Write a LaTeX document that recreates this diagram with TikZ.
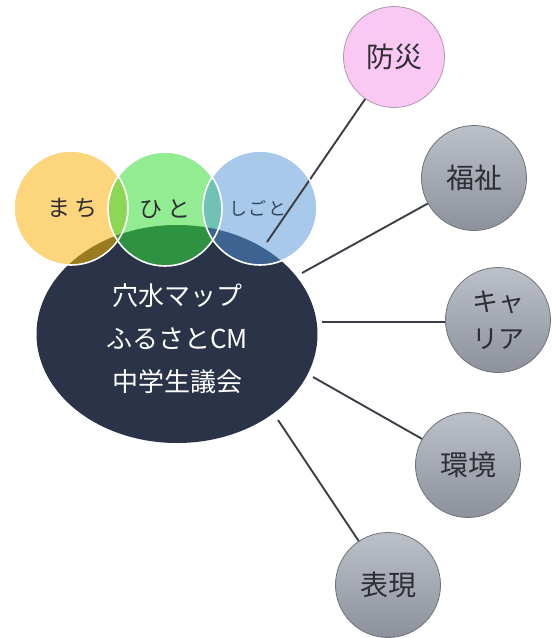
\documentclass[tikz,border=0pt]{standalone}
\usepackage{fontspec}
\setmainfont{Noto Sans CJK JP}
\usetikzlibrary{shapes.geometric}
\definecolor{navy}{HTML}{2A3347}
\definecolor{machiC}{HTML}{FCD57C}
\definecolor{hitoC}{HTML}{92EC92}
\definecolor{shigotoC}{HTML}{A9C9EA}
\definecolor{mhC}{HTML}{8ED656}
\definecolor{hsC}{HTML}{70C2B4}
\definecolor{meC}{HTML}{9A7B1F}
\definecolor{heC}{HTML}{2F9241}
\definecolor{seC}{HTML}{3D6390}
\definecolor{lineC}{HTML}{3A3E46}
\definecolor{grayTop}{HTML}{BCC0C9}
\definecolor{grayBot}{HTML}{8D919B}
\definecolor{grayEdge}{HTML}{6E727C}
\definecolor{pinkC}{HTML}{F9C9F3}
\definecolor{pinkEdge}{HTML}{B395B3}
\definecolor{txtC}{HTML}{2E2E34}
\definecolor{shTxt}{HTML}{34465E}
\tikzset{
  vennring/.style={circle, draw=white, line width=1.6pt, minimum size=114pt, inner sep=0pt, text=txtC},
  topicball/.style={circle, draw=grayEdge, line width=0.8pt, minimum size=105pt, inner sep=0pt,
    top color=grayTop, bottom color=grayBot, text=txtC, font=\fontsize{28}{36}\selectfont, align=center},
  link/.style={draw=lineC, line width=1.9pt},
}
\begin{document}
\begin{tikzpicture}[x=1pt,y=-1pt]
\useasboundingbox (0,0) rectangle (553,638);
% main ellipse
\node[ellipse, fill=navy, minimum width=281pt, minimum height=218pt, inner sep=0pt] (main) at (177,334) {};
% venn fills
\fill[machiC] (71,208) circle[radius=57pt];
\fill[hitoC] (165,209) circle[radius=57pt];
\fill[shigotoC] (260,208) circle[radius=57pt];
\begin{scope}
  \clip (71,208) circle[radius=57pt];
  \fill[mhC] (165,209) circle[radius=57pt];
\end{scope}
\begin{scope}
  \clip (165,209) circle[radius=57pt];
  \fill[hsC] (260,208) circle[radius=57pt];
\end{scope}
\begin{scope}
  \clip (71,208) circle[radius=57pt];
  \fill[meC] (177,334) ellipse[x radius=140.5pt, y radius=109pt];
\end{scope}
\begin{scope}
  \clip (165,209) circle[radius=57pt];
  \fill[heC] (177,334) ellipse[x radius=140.5pt, y radius=109pt];
\end{scope}
\begin{scope}
  \clip (260,208) circle[radius=57pt];
  \fill[seC] (177,334) ellipse[x radius=140.5pt, y radius=109pt];
\end{scope}
% topic circles
\node[topicball, top color=pinkC, bottom color=pinkC, draw=pinkEdge, minimum size=101pt] (bosai) at (394,57) {防災};
\node[topicball] (fukushi) at (474,178) {福祉};
\node[topicball, font=\fontsize{26}{37}\selectfont] (career) at (498,320) {キャ\\リア};
\node[topicball] (kankyo) at (468,465) {環境};
\node[topicball] (hyogen) at (388,585) {表現};
% free ends of connectors near the ellipse
\coordinate (e1) at (267,242);
\coordinate (e2) at (302,273);
\coordinate (e3) at (322,322);
\coordinate (e4) at (313,377);
\coordinate (e5) at (278,420);
\draw[link] (e1) -- (bosai);
\draw[link] (e2) -- (fukushi);
\draw[link] (e3) -- (career.west |- e3);
\draw[link] (e4) -- (kankyo);
\draw[link] (e5) -- (hyogen);
% venn outlines and labels
\node[vennring, font=\fontsize{23}{26}\selectfont] (machi) at (71,208) {\hspace*{3pt}ま\hspace{5pt}ち};
\node[vennring, font=\fontsize{23}{26}\selectfont] (hito) at (165,209) {ひ\hspace{5pt}と};
\node[vennring, font=\fontsize{18}{20}\selectfont, text=shTxt] (shigoto) at (260,208) {し\hspace{2pt}ご\hspace{2pt}と\hspace*{4pt}};
% main text
\node[text=white, align=center, font=\fontsize{26}{43}\selectfont] (mtext) at (177,339) {穴水マップ\\ふるさとCM\\中学生議会};
\end{tikzpicture}
\end{document}
